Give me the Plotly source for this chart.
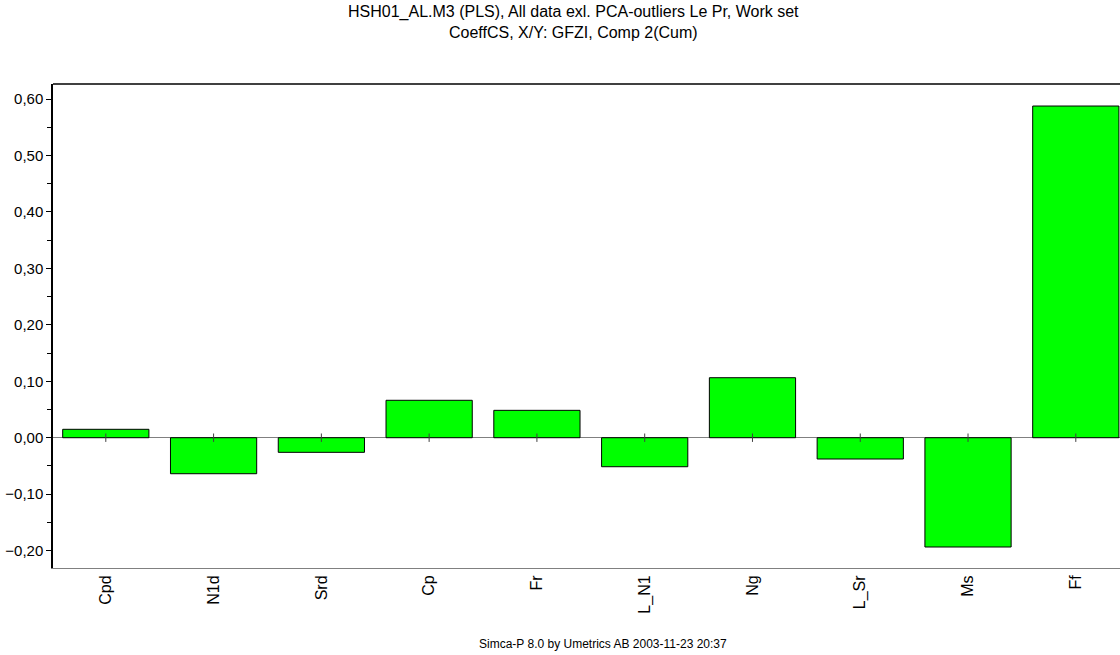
import plotly.graph_objects as go

# Scaled and centred PLS coefficients, component 2 (cumulative)
variables = ["Cpd", "N1d", "Srd", "Cp", "Fr", "L_N1", "Ng", "L_Sr", "Ms", "Ff"]
coeff_cs = [0.0149, -0.0638, -0.0259, 0.0663, 0.0485, -0.0514, 0.1063, -0.0377, -0.1936, 0.5876]

title_lines = [
    "HSH01_AL.M3 (PLS), All data exl. PCA-outliers Le Pr, Work set",
    "CoeffCS, X/Y: GFZI, Comp 2(Cum)",
]
footer = "Simca-P 8.0 by Umetrics AB 2003-11-23 20:37"

FONT = "Liberation Sans, Arial, sans-serif"
xpos = list(range(len(variables)))

fig = go.Figure()
fig.add_trace(go.Bar(
    x=xpos, y=coeff_cs, width=0.8,
    marker=dict(color="#00ff00", line=dict(color="#000000", width=1)),
    hoverinfo="x+y", showlegend=False,
))
# small category ticks sitting on the zero line
fig.add_trace(go.Scatter(
    x=xpos, y=[0] * len(xpos), mode="markers",
    marker=dict(symbol="line-ns", size=6, line=dict(color="#404040", width=1)),
    hoverinfo="skip", showlegend=False,
))

fig.update_layout(
    width=1120, height=655,
    margin=dict(l=53, r=0, t=84, b=87),
    paper_bgcolor="white", plot_bgcolor="white",
    separators=", ",
    font=dict(family=FONT, color="black", size=14),
    xaxis=dict(
        range=[-0.49, 9.41], tickvals=xpos, ticktext=variables,
        tickangle=-90, ticks="", showgrid=False, zeroline=False,
        showline=True, linecolor="#808080", linewidth=1,
        tickfont=dict(size=16, family=FONT, color="black"),
    ),
    yaxis=dict(
        range=[-0.2308, 0.6266], dtick=0.1, tick0=0, tickformat=".2f",
        ticks="outside", ticklen=5, tickcolor="black",
        minor=dict(dtick=0.05, ticks="outside", ticklen=4, tickcolor="black"),
        showgrid=False, zeroline=True, zerolinecolor="#808080", zerolinewidth=1,
        showline=True, linecolor="black", linewidth=1.5,
        tickfont=dict(size=15, family=FONT, color="black"),
    ),
    shapes=[dict(type="line", xref="paper", yref="paper", x0=0, x1=1, y0=1, y1=1,
                 line=dict(color="black", width=1.5))],
    annotations=[
        dict(text="<br>".join(title_lines), xref="paper", yref="paper",
             x=0.488, y=1.0, yshift=62, xanchor="center", yanchor="middle",
             showarrow=False, font=dict(size=16, family=FONT, color="black")),
        dict(text=footer, xref="paper", yref="paper", x=0.515, y=0, yshift=-67,
             xanchor="center", yanchor="top", showarrow=False,
             font=dict(size=12, family=FONT, color="black")),
    ],
)

fig.write_html("out.html")
